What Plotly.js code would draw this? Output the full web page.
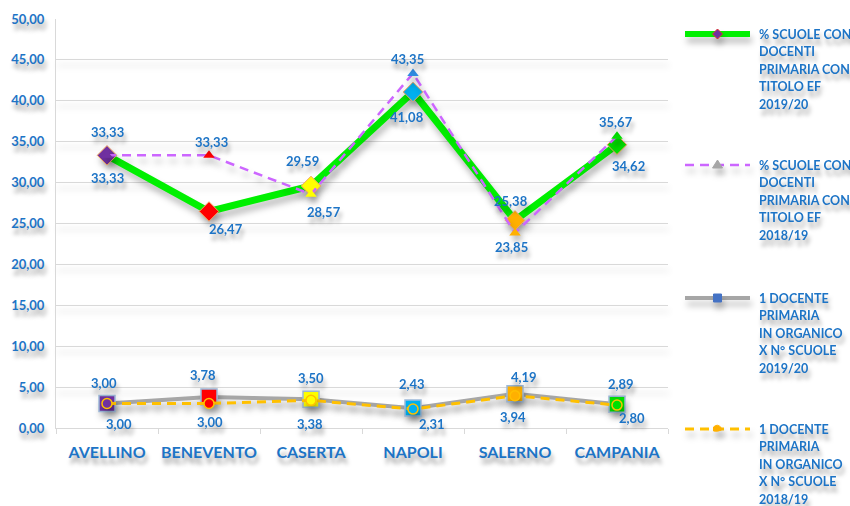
<!DOCTYPE html>
<html><head><meta charset="utf-8">
<script src="https://cdn.plot.ly/plotly-3.0.1.min.js"></script>
<style>
body{margin:0;background:#fff;}
#chart .gridlayer path{filter:drop-shadow(1px 6px 3px rgba(0,0,0,0.22));}
#chart .scatterlayer .trace .js-line{filter:drop-shadow(2px 6px 3px rgba(0,0,0,0.25));}
#chart .scatterlayer .trace .points{filter:drop-shadow(2px 5px 3px rgba(0,0,0,0.25));}
#chart .layer-above path{filter:drop-shadow(2px 6px 3px rgba(0,0,0,0.25));}
</style>
</head><body>
<div id="chart" style="width:850px;height:506px;"></div>
<script>
const categories = ['AVELLINO','BENEVENTO','CASERTA','NAPOLI','SALERNO','CAMPANIA'];
const pct2019 = [33.33, 26.47, 29.59, 41.08, 25.38, 34.62];
const pct2018 = [33.33, 33.33, 28.57, 43.35, 23.85, 35.67];
const doc2019 = [3.00, 3.78, 3.50, 2.43, 4.19, 2.89];
const doc2018 = [3.00, 3.00, 3.38, 2.31, 3.94, 2.80];
const seriesNames = [
  '% SCUOLE CON<br>DOCENTI<br>PRIMARIA CON<br>TITOLO EF<br>2019/20',
  '% SCUOLE CON<br>DOCENTI<br>PRIMARIA CON<br>TITOLO EF<br>2018/19',
  '1 DOCENTE<br>PRIMARIA<br>IN ORGANICO<br>X N° SCUOLE<br>2019/20',
  '1 DOCENTE<br>PRIMARIA<br>IN ORGANICO<br>X N° SCUOLE<br>2018/19'
];

// styling (not data)
const pointColors = ['#7030A0','#FF0000','#FFFF00','#00B0F0','#FFB000','#00E000'];
const triColors   = ['#7030A0','#FF0000','#FFFF00','#2E8BE0','#FFB000','#00E000'];
const lineColors  = ['#00F000','#CC66FF','#A6A6A6','#FFC000'];
const lineWidths  = [7, 2.5, 4, 3];
const lineDashes  = ['solid','9px,6px','solid','9px,6px'];
const blue = '#1D74C6';
const shadow = '2px 6px 4px rgba(0,0,0,0.35)';
const lblFont = {family:'Lato, sans-serif', size:13, color:blue, weight:700, shadow:shadow};

// label offsets in px [dx, dy] (dy positive = up)
const off2019 = [[0,-23],[17,-18],[-9,25],[-6,-25],[-4,19],[11,-21]];
const off2018 = [[0,23],[2,13],[13,-18],[-6,14],[-4,-14],[-1,14]];
const offD19  = [[-3,20],[-6,22],[0,21],[-1,24],[9,17],[4,20]];
const offD18  = [[12,-21],[1,-19],[-1,-24],[19,-15],[-2,-21],[15,-13]];

const fmt = v => v.toFixed(2).replace('.', ',');

const traces = [
  {x:categories, y:pct2019, name:seriesNames[0], type:'scatter', mode:'lines+markers',
   line:{color:lineColors[0], width:lineWidths[0]},
   marker:{symbol:'diamond', size:15, color:pointColors, line:{color:'#F4A460', width:1}}},
  {x:categories, y:pct2018, name:seriesNames[1], type:'scatter', mode:'lines+markers',
   line:{color:lineColors[1], width:lineWidths[1], dash:lineDashes[1]},
   marker:{symbol:'triangle-up', size:10, color:triColors, line:{width:0}}},
  {x:categories, y:doc2019, name:seriesNames[2], type:'scatter', mode:'lines+markers',
   line:{color:lineColors[2], width:lineWidths[2]},
   marker:{symbol:'square', size:16, color:pointColors, line:{color:'#9DB9D9', width:1.5}}},
  {x:categories, y:doc2018, name:seriesNames[3], type:'scatter', mode:'lines+markers',
   line:{color:lineColors[3], width:lineWidths[3], dash:lineDashes[3]},
   marker:{symbol:'circle', size:10, color:pointColors, line:{color:'#FFC000', width:1.5}}}
];

const annotations = [];
function addLabels(vals, offs){
  vals.forEach((v,i)=>{
    annotations.push({x:categories[i], y:v, xref:'x', yref:'y', text:fmt(v), showarrow:false,
      xshift:offs[i][0], yshift:offs[i][1], font:lblFont});
  });
}
addLabels(pct2019, off2019);
addLabels(pct2018, off2018);
addLabels(doc2019, offD19);
addLabels(doc2018, offD18);

// custom legend (pixel layout -> paper coords)
const M = {l:56, r:182, t:19, b:78};
const W = 850, H = 506;
const pw = W - M.l - M.r, ph = H - M.t - M.b;
const px = v => (v - M.l) / pw;
const py = v => (H - M.b - v) / ph;
const legY = [34, 165, 298, 429];
const legLineX = [685, 750];
const legTextX = 757;
const legLineH = 17.5;
const shapes = [];
const legMarkers = [
  {path:'M0,5L5,0L0,-5L-5,0Z', fill:'#7030A0', line:'#E03030'},
  {path:'M0,5L5,-3L-5,-3Z', fill:'#A6A6A6', line:'#A6A6A6'},
  {path:'M-4,-4H4V4H-4Z', fill:'#4472C4', line:'#4472C4'},
  {path:'M-4,2Q0,6 4,1L4,-1Q0,-3 -4,-2Z', fill:'#FFB000', line:'#FFB000'}
];
legY.forEach((y,i)=>{
  shapes.push({type:'line', xref:'paper', yref:'paper', x0:px(legLineX[0]), x1:px(legLineX[1]),
    y0:py(y), y1:py(y), line:{color:lineColors[i], width:Math.min(lineWidths[i],6), dash:lineDashes[i]}, layer:'above'});
  const m = legMarkers[i];
  shapes.push({type:'path', xref:'paper', yref:'paper', xsizemode:'pixel', ysizemode:'pixel',
    xanchor:px((legLineX[0]+legLineX[1])/2), yanchor:py(y), path:m.path,
    fillcolor:m.fill, line:{color:m.line, width:1}, layer:'above'});
  seriesNames[i].split('<br>').forEach((ln,k)=>{
    annotations.push({xref:'paper', yref:'paper', x:px(legTextX), y:py(y + k*legLineH), xanchor:'left', yanchor:'middle',
      align:'left', text:ln, showarrow:false,
      font:{family:'Lato, sans-serif', size:12.5, color:blue, weight:700, shadow:shadow}});
  });
});

const layout = {
  width:W, height:H,
  margin:M,
  paper_bgcolor:'#fff', plot_bgcolor:'#fff',
  separators:',.',
  showlegend:false,
  xaxis:{type:'category', showgrid:false, showline:true, linecolor:'#D9D9D9', linewidth:1,
    ticks:'outside', tickson:'boundaries', ticklen:5, tickcolor:'#D9D9D9', tickangle:0,
    ticklabelstandoff:10,
    tickfont:{family:'Lato, sans-serif', size:16, color:blue, weight:700, shadow:shadow},
    range:[-0.5,5.5]},
  yaxis:{range:[0,50], dtick:5, tickformat:'.2f', showgrid:true, gridcolor:'#D9D9D9', gridwidth:1,
    showline:true, linecolor:'#D9D9D9', zeroline:false, ticks:'', ticklabelstandoff:8,
    tickfont:{family:'Lato, sans-serif', size:13, color:blue, weight:700, shadow:shadow}},
  shapes:shapes,
  annotations:annotations
};
Plotly.newPlot('chart', traces, layout, {displayModeBar:false, staticPlot:true});
</script>
</body></html>
